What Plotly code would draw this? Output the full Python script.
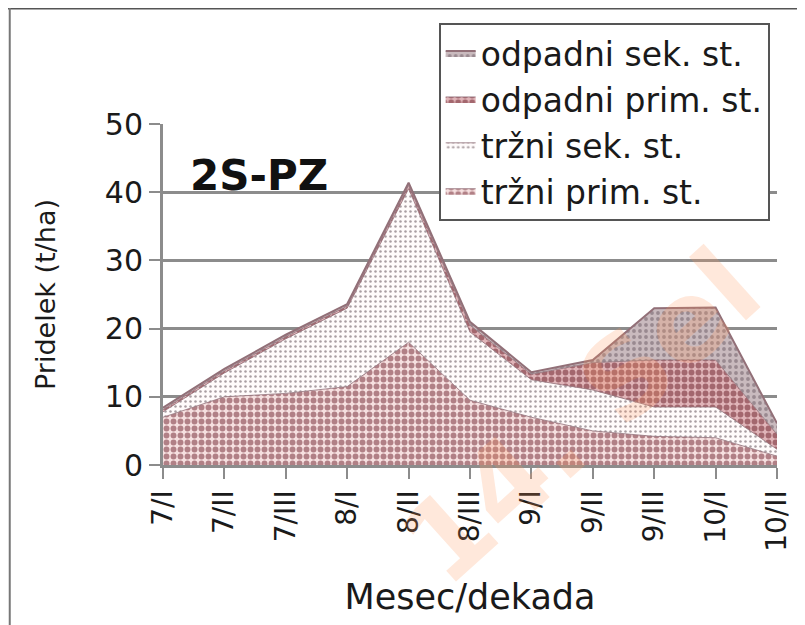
import plotly.graph_objects as go

categories = ["7/I", "7/II", "7/III", "8/I", "8/II", "8/III", "9/I", "9/II", "9/III", "10/I", "10/II"]
trzni_prim = [7.0, 10.0, 10.5, 11.5, 18.0, 9.5, 7.0, 5.0, 4.2, 4.0, 1.3]
trzni_sek = [0.8, 3.5, 8.0, 11.5, 22.5, 10.0, 5.5, 6.0, 4.3, 4.5, 1.0]
odpadni_prim = [0.3, 0.3, 0.3, 0.3, 0.5, 1.0, 0.8, 4.0, 6.9, 6.9, 2.2]
odpadni_sek = [0.3, 0.3, 0.3, 0.3, 0.4, 0.5, 0.3, 0.4, 7.6, 7.7, 1.6]
y_ticks = [0, 10, 20, 30, 40, 50]

FONT = "DejaVu Sans"
TXT = "#1a1a1a"

series = [
    ("tržni prim. st.", trzni_prim, dict(shape=".", fgcolor="#6c1f2b", bgcolor="#f6e0e0", size=7, solidity=0.55), 0.8),
    ("tržni sek. st.", trzni_sek, dict(shape=".", fgcolor="#54424a", bgcolor="#fffbfb", size=5, solidity=0.2), 0.8),
    ("odpadni prim. st.", odpadni_prim, dict(shape=".", fgcolor="#661a24", bgcolor="#e0b4b8", size=7, solidity=0.55), 0.8),
    ("odpadni sek. st.", odpadni_sek, dict(shape=".", fgcolor="#6a5862", bgcolor="#c9babe", size=6, solidity=0.32), 2.0),
]

fig = go.Figure()
for name, vals, pat, lw in series:
    fig.add_trace(go.Scatter(
        x=categories, y=vals, name=name, stackgroup="one", mode="lines",
        line=dict(width=lw, color="#927078"),
        fillcolor=pat["bgcolor"], fillpattern=pat,
        hoverinfo="x+y+name",
    ))

fig.update_layout(
    width=797, height=617,
    margin=dict(l=155, r=25, t=116, b=160),
    paper_bgcolor="white", plot_bgcolor="white",
    font=dict(family=FONT, color=TXT, size=30),
    showlegend=True,
    legend=dict(
        x=0.449, y=1.296, xanchor="left", yanchor="top",
        bgcolor="white", bordercolor="#555555", borderwidth=2,
        font=dict(family=FONT, size=33, color=TXT),
        traceorder="reversed", tracegroupgap=0, itemwidth=30,
    ),
    xaxis=dict(
        type="category", range=[0, 10],
        showgrid=False, showline=True, linecolor="#8c8c8c", linewidth=3,
        ticks="outside", ticklen=11, tickwidth=2, tickcolor="#8c8c8c",
        tickangle=-90, tickfont=dict(size=28, family=FONT, color=TXT),
        title=dict(text="Mesec/dekada", font=dict(size=35, family=FONT, color=TXT), standoff=34),
    ),
    yaxis=dict(
        range=[0, 50], tickvals=y_ticks,
        showgrid=True, gridcolor="#8c8c8c", gridwidth=3,
        showline=True, linecolor="#8c8c8c", linewidth=3,
        ticks="outside", ticklen=11, tickwidth=2, tickcolor="#8c8c8c",
        tickfont=dict(size=30, family=FONT, color=TXT),
        title=dict(text="Pridelek (t/ha)", font=dict(size=27, family=FONT, color=TXT), standoff=42),
        zeroline=False,
    ),
    annotations=[
        dict(text="<b>2S-PZ</b>", x=0.04, y=0.85, xref="paper", yref="paper",
             xanchor="left", yanchor="middle", showarrow=False,
             font=dict(size=42, family=FONT, color="#111111")),
        dict(text="<b>14. Sel</b>", x=0.68, y=0.14, xref="paper", yref="paper",
             xanchor="center", yanchor="middle",
             showarrow=False, textangle=-42,
             font=dict(size=112, family=FONT, color="rgba(255,150,90,0.22)")),
    ],
    shapes=[
        dict(type="line", xref="paper", yref="paper", x0=-0.26, x1=1.1, y0=1.34, y1=1.34,
             line=dict(color="#555555", width=3)),
        dict(type="line", xref="paper", yref="paper", x0=-0.2496, x1=-0.2496, y0=-0.6, y1=1.34,
             line=dict(color="#777777", width=2)),
    ],
)

fig.write_html("out.html")
